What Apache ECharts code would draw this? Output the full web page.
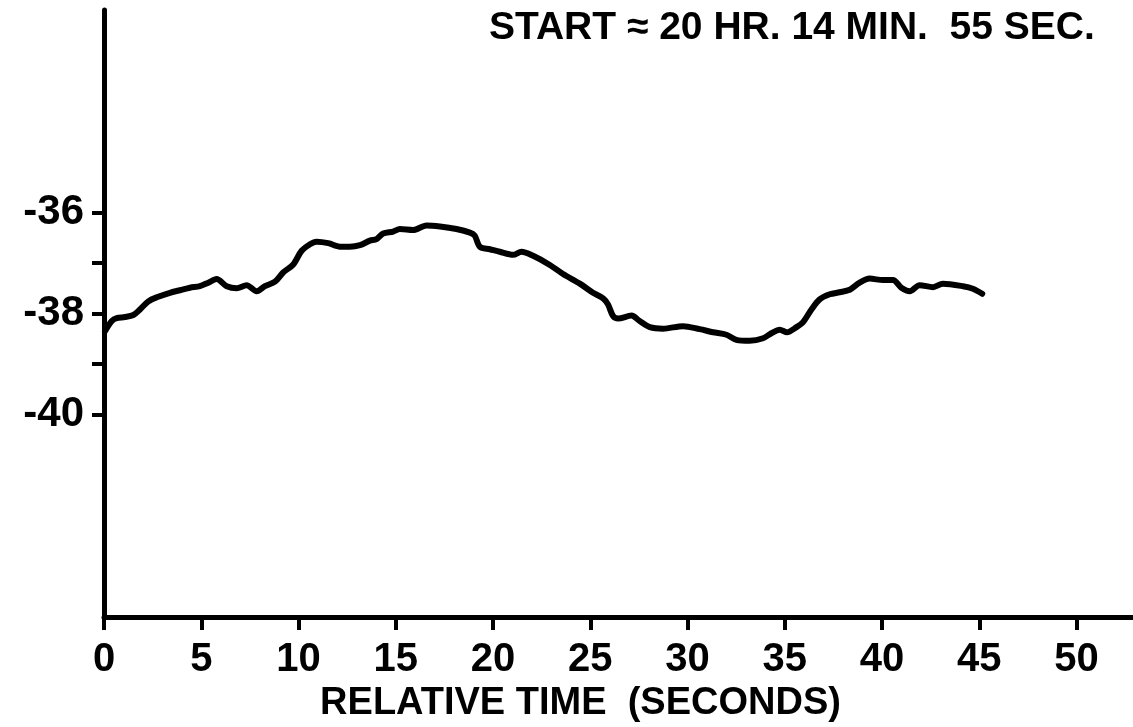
<!DOCTYPE html>
<html>
<head>
<meta charset="utf-8">
<title>Relative time trace</title>
<script src="https://cdn.jsdelivr.net/npm/echarts@6/dist/echarts.min.js"></script>
<style>
  html, body { margin: 0; padding: 0; background: #fff; }
  #chart { width: 1133px; height: 727px; }
</style>
</head>
<body>
<div id="chart"></div>
<script>
// Trace samples: relative time (s) and reading
const times = [
  0.05, 0.40, 0.65, 1.08, 1.51, 1.85, 2.28, 2.71, 3.39, 3.91,
  4.42, 4.93, 5.36, 5.79, 6.31, 6.82, 7.33, 7.85, 8.27, 8.79,
  9.21, 9.73, 10.16, 10.59, 10.93, 11.53, 12.13, 12.64, 13.16, 13.67,
  14.01, 14.35, 14.87, 15.21, 15.89, 16.58, 17.27, 18.12, 18.81, 19.06,
  19.32, 19.84, 20.35, 21.03, 21.46, 22.06, 22.92, 23.60, 24.46, 25.14,
  25.66, 25.91, 26.17, 26.43, 27.12, 27.54, 28.06, 28.74, 29.77, 30.62,
  31.31, 32.00, 32.51, 33.20, 33.88, 34.31, 34.74, 35.11, 35.60, 35.94,
  36.37, 36.79, 37.31, 37.82, 38.34, 38.85, 39.36, 40.05, 40.56, 40.99,
  41.42, 41.93, 42.62, 43.13, 44.16, 44.67, 45.15
];
const readings = [
  -38.35, -38.15, -38.09, -38.07, -38.03, -37.92, -37.76, -37.68, -37.59, -37.54,
  -37.49, -37.46, -37.39, -37.32, -37.46, -37.50, -37.44, -37.56, -37.46, -37.37,
  -37.19, -37.03, -36.76, -36.63, -36.58, -36.61, -36.68, -36.68, -36.65, -36.56,
  -36.53, -36.42, -36.38, -36.33, -36.35, -36.26, -36.28, -36.33, -36.40, -36.46,
  -36.68, -36.73, -36.78, -36.84, -36.78, -36.86, -37.04, -37.22, -37.41, -37.59,
  -37.70, -37.82, -38.05, -38.10, -38.04, -38.15, -38.27, -38.30, -38.25, -38.31,
  -38.37, -38.42, -38.52, -38.54, -38.49, -38.39, -38.32, -38.37, -38.27, -38.17,
  -37.92, -37.72, -37.62, -37.58, -37.53, -37.39, -37.31, -37.34, -37.34, -37.49,
  -37.56, -37.44, -37.48, -37.41, -37.46, -37.51, -37.61
];

const xTicks = [0, 5, 10, 15, 20, 25, 30, 35, 40, 45, 50];
const yTicks = [-36, -37, -38, -39, -40];
const yLabels = [-36, -38, -40];

const titleText = 'START \u2248 20 HR. 14 MIN.  55 SEC.';
const xName = 'RELATIVE TIME  (SECONDS)';

const FONT = "'Liberation Sans', Arial, sans-serif";
const INK = '#000';

const chart = echarts.init(document.getElementById('chart'), null, { renderer: 'canvas' });

chart.setOption({
  backgroundColor: '#fff',
  animation: false,
  title: {
    text: titleText,
    left: 484,
    top: 4,
    textStyle: { fontFamily: FONT, fontWeight: 'bold', fontSize: 39, color: INK }
  },
  grid: { left: 104, right: 0, top: 10, bottom: 110, containLabel: false, outerBoundsMode: 'none' },
  xAxis: {
    type: 'value',
    min: 0,
    max: 52.9,
    interval: 5,
    name: xName,
    nameLocation: 'middle',
    nameGap: 63,
    nameTextStyle: {
      fontFamily: FONT, fontWeight: 'bold', fontSize: 38, color: INK,
      padding: [0, 76, 0, 0]
    },
    axisLine: { show: true, lineStyle: { color: INK, width: 5 } },
    axisTick: {
      show: true, inside: false, length: 13,
      lineStyle: { color: INK, width: 4 },
      customValues: xTicks
    },
    axisLabel: {
      margin: 23,
      fontFamily: FONT, fontWeight: 'bold', fontSize: 40, color: INK,
      customValues: xTicks
    },
    splitLine: { show: false }
  },
  yAxis: {
    type: 'value',
    min: -44,
    max: -32,
    interval: 1,
    axisLine: { show: true, onZero: false, lineStyle: { color: INK, width: 5 } },
    axisTick: {
      show: true, inside: false, length: 12,
      lineStyle: { color: INK, width: 4 },
      customValues: yTicks
    },
    axisLabel: {
      margin: 20,
      fontFamily: FONT, fontWeight: 'bold', fontSize: 42, color: INK,
      customValues: yLabels,
      formatter: v => String(v)
    },
    splitLine: { show: false }
  },
  series: [{
    type: 'line',
    data: times.map((t, i) => [t, readings[i]]),
    showSymbol: false,
    smooth: 0.3,
    lineStyle: { color: INK, width: 6, cap: 'round', join: 'round' }
  }]
});
</script>
</body>
</html>
